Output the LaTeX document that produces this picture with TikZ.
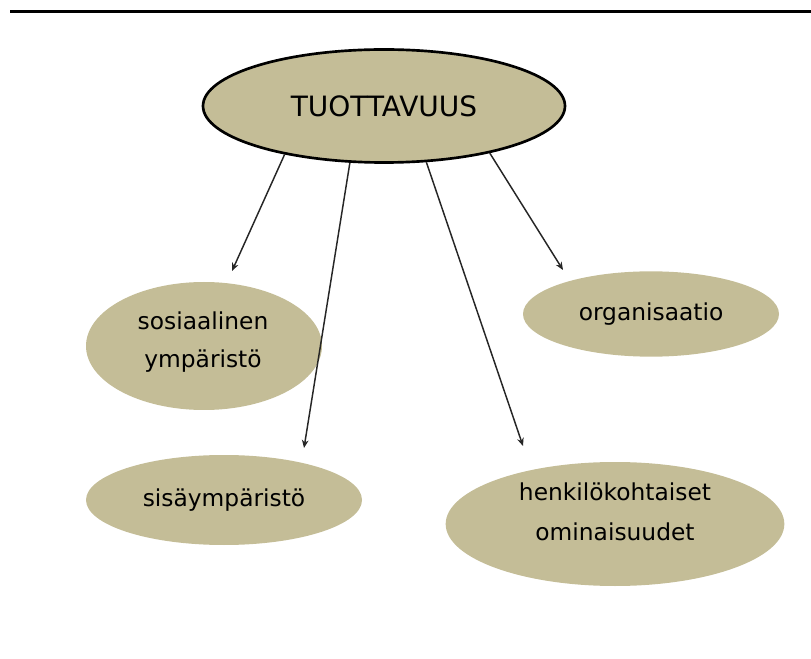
\documentclass[tikz,border=0pt]{standalone}
\usepackage{fontspec}
\setmainfont{DejaVu Sans}
\usetikzlibrary{shapes.geometric, arrows.meta}
\definecolor{tanfill}{HTML}{C4BD97}
\tikzset{
  >={Stealth[length=6pt, width=5pt]},
  topic/.style={ellipse, fill=tanfill, inner sep=0pt, align=center,
    font=\fontsize{17.5}{28}\selectfont},
  mainidea/.style={ellipse, fill=tanfill, draw=black, line width=2pt,
    inner sep=0pt, font=\fontsize{21}{24}\selectfont},
  link/.style={->, draw=black!85, line width=1.1pt},
}

\begin{document}
\begin{tikzpicture}[x=0.75pt, y=-0.75pt]
    \useasboundingbox (0,0) rectangle (811,659);
    \draw[line width=2.3pt] (10,11.3) -- (811,11.3);

    % ellipses
    \node[mainidea, minimum width=271.5pt, minimum height=84.75pt] (tuo) at (384,106) {TUOTTAVUUS};
    \node[topic, minimum width=177pt, minimum height=96pt] (sos) at (204,346) {};
    \node[topic, minimum width=207pt, minimum height=67.5pt] (sisa) at (224,500) {sisäympäristö};
    \node[topic, minimum width=254pt, minimum height=93pt] (henk) at (615,524) {};
    \node[topic, minimum width=192pt, minimum height=64pt] (org) at (651,314) {organisaatio};

    % two-line texts
    \node[topic, fill=none, font=\fontsize{17.5}{28}\selectfont] (sostext) at (203,342) {sosiaalinen\\ympäristö};
    \node[topic, fill=none, font=\fontsize{17.5}{30}\selectfont] (henktext) at (615,512) {henkilökohtaiset\\ominaisuudet};

    % arrow ends
    \coordinate (sosin) at (232,271);
    \coordinate (sisain) at (304,448);
    \coordinate (henkin) at (523,446);
    \coordinate (orgin) at (563,270);

    % arrows
    \draw[link] (tuo.206.6) -- (sosin);
    \draw[link] (tuo.239.8) -- (sisain);
    \draw[link] (tuo.307.4) -- (henkin);
    \draw[link] (tuo.336.6) -- (orgin);
\end{tikzpicture}
\end{document}
